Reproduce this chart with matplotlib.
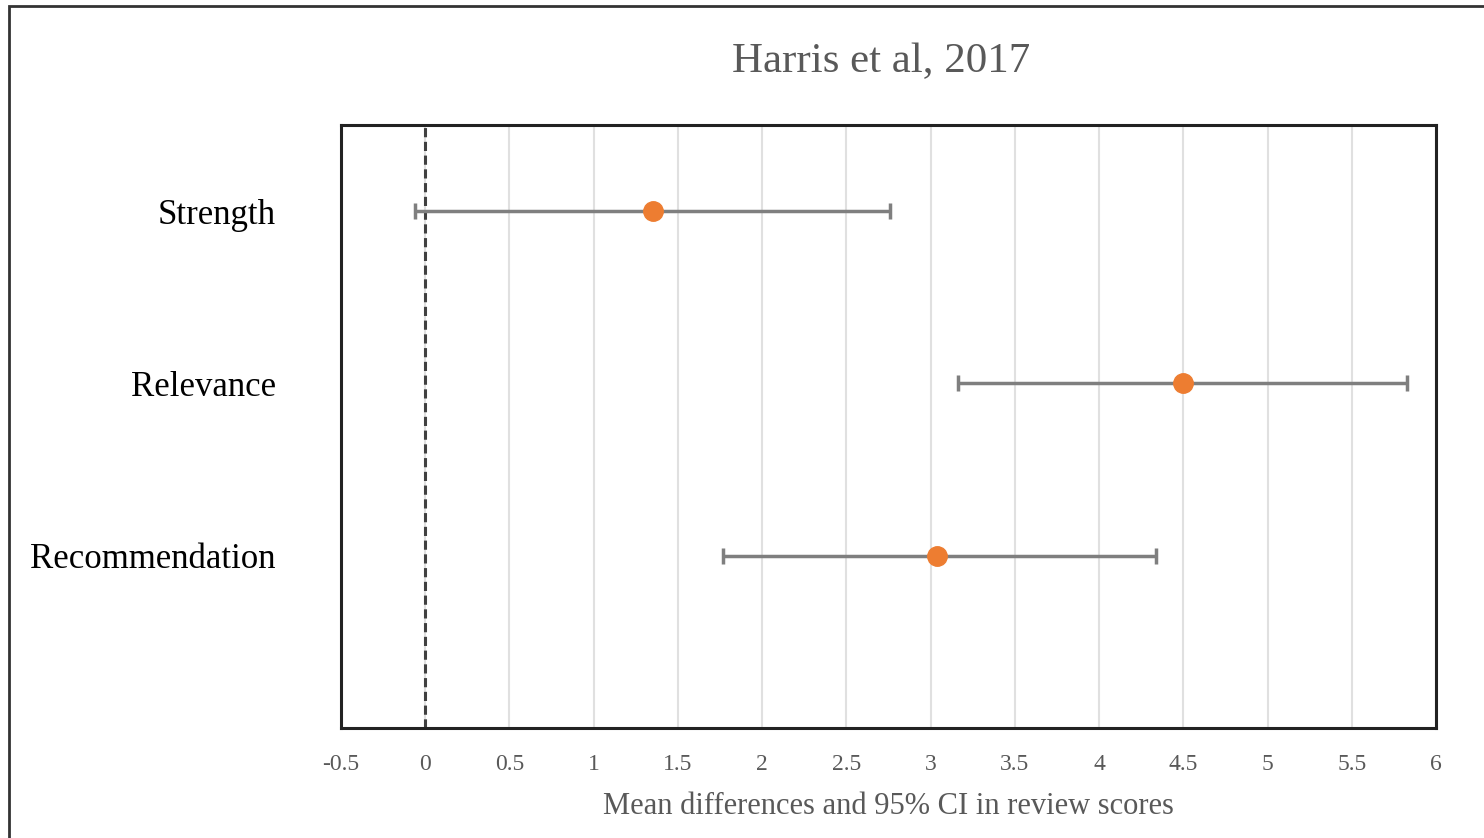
import matplotlib.pyplot as plt
from matplotlib.patches import Rectangle

plt.rcParams["font.family"] = ["Liberation Serif", "DejaVu Serif"]

# Data entry
outcomes = ["Strength", "Relevance", "Recommendation"]
mean_diff = [1.35, 4.50, 3.04]
ci_low = [-0.06, 3.16, 1.77]
ci_high = [2.76, 5.83, 4.34]
ypos = [3, 2, 1]
xticks = [-0.5, 0, 0.5, 1, 1.5, 2, 2.5, 3, 3.5, 4, 4.5, 5, 5.5, 6]
xtick_labels = ["-0.5", "0", "0.5", "1", "1.5", "2", "2.5", "3", "3.5", "4", "4.5", "5", "5.5", "6"]

fig = plt.figure(figsize=(14.84, 8.38), dpi=100)
ax = fig.add_axes([0.2298, 0.1313, 0.7379, 0.7195])

# outer frame (only left and top visible in the original crop)
fig.patches.append(Rectangle((9 / 1484, -0.1), 1.2, 1.1 - 6 / 838,
                             transform=fig.transFigure, fill=False,
                             edgecolor="#333333", linewidth=2))

xerr = [[m - lo for m, lo in zip(mean_diff, ci_low)],
        [hi - m for m, hi in zip(mean_diff, ci_high)]]
ax.errorbar(mean_diff, ypos, xerr=xerr, fmt="none", ecolor="#7f7f7f",
            elinewidth=2.5, capsize=6, capthick=2.5, zorder=3)
ax.plot(mean_diff, ypos, "o", color="#ed7d31", markersize=14, zorder=4)

ax.axvline(0, color="#404040", linestyle=(0, (3, 1.5)), linewidth=2.2, zorder=2)

ax.set_xlim(-0.5, 6)
ax.set_ylim(0, 3.5)
ax.set_xticks(xticks)
ax.set_xticklabels(xtick_labels)
ax.set_yticks(ypos)
ax.set_yticklabels(outcomes)
ax.xaxis.grid(True, color="#e0e0e0", linewidth=1.5)
ax.set_axisbelow(True)
ax.tick_params(axis="x", length=0, pad=19, labelsize=17, labelcolor="#595959")
ax.tick_params(axis="y", length=0, pad=47, labelsize=25, labelcolor="black")
for s in ax.spines.values():
    s.set_linewidth(2.2)
    s.set_color("#222222")

# title sits slightly left of the axes centre in the original
fig.text(881 / 1484, 1 - 62 / 838, "Harris et al, 2017", fontsize=31,
         color="#595959", ha="center", va="center")
ax.set_xlabel("Mean differences and 95% CI in review scores",
              fontsize=22, color="#595959", labelpad=12)

fig.savefig("out.png", dpi=100)
